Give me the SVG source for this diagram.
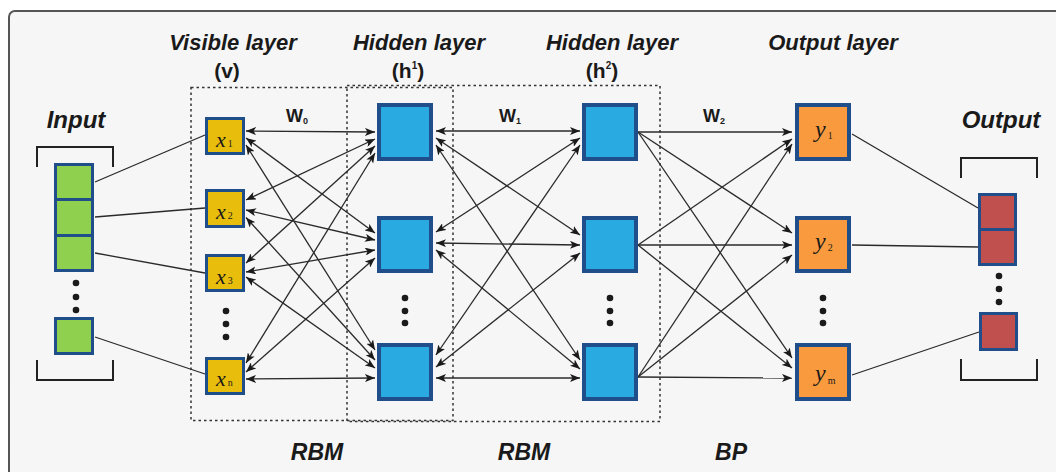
<svg xmlns="http://www.w3.org/2000/svg" width="1056" height="472" viewBox="0 0 1056 472">
<defs>
<style>
.lbl{font-family:"Liberation Sans",Arial,sans-serif;font-weight:bold;font-style:italic;fill:#1a1a1a;text-anchor:middle}
.par{font-family:"Liberation Sans",Arial,sans-serif;font-weight:bold;fill:#1a1a1a;text-anchor:middle}
.w{font-family:"Liberation Sans",Arial,sans-serif;font-weight:bold;fill:#1a1a1a}
.var{font-family:"Liberation Serif","Times New Roman",serif;font-style:italic;fill:#1a1a1a}
.sub{font-family:"Liberation Serif","Times New Roman",serif;font-style:normal}
.green{fill:#8fd14f;stroke:#1f4e8a;stroke-width:3}
.yellow{fill:#e9bd0c;stroke:#1f4e8a;stroke-width:3}
.blue{fill:#29abe2;stroke:#1f4e8a;stroke-width:4}
.orange{fill:#f99a3e;stroke:#1f4e8a;stroke-width:4}
.red{fill:#c0504d;stroke:#1f4e8a;stroke-width:3}
.dot{fill:#1a1a1a}
.box{fill:none;stroke:#333;stroke-width:1.5;stroke-dasharray:2.5 3}
.br{fill:none;stroke:#222;stroke-width:2}
.plain{stroke:#2a2a2a;stroke-width:1.3;fill:none}
.bi{stroke:#2a2a2a;stroke-width:1.3;fill:none;marker-start:url(#ah);marker-end:url(#ah)}
.uni{stroke:#2a2a2a;stroke-width:1.3;fill:none;marker-end:url(#ah)}
</style>
<marker id="ah" viewBox="0 0 10 8" refX="10" refY="4" markerWidth="10" markerHeight="8" markerUnits="userSpaceOnUse" orient="auto-start-reverse">
<path d="M0,0 L10,4 L0,8 L2.5,4 z" fill="#1a1a1a"/>
</marker>
</defs>
<rect x="0" y="0" width="1056" height="472" fill="#ffffff"/>
<rect x="9" y="11" width="1090" height="500" rx="6" fill="#f6f6f6" stroke="#555" stroke-width="2"/>

<g id="labels">
<text class="lbl" x="76" y="128" font-size="24">Input</text>
<text class="lbl" x="1001" y="128" font-size="24">Output</text>
<text class="lbl" x="233" y="50" font-size="22">Visible layer</text>
<text class="par" x="227" y="78" font-size="21">(v)</text>
<text class="lbl" x="419" y="50" font-size="22">Hidden layer</text>
<text class="par" x="408" y="78" font-size="21">(h<tspan font-size="10" dy="-9">1</tspan><tspan dy="9">)</tspan></text>
<text class="lbl" x="612" y="50" font-size="22">Hidden layer</text>
<text class="par" x="602" y="78" font-size="21">(h<tspan font-size="10" dy="-9">2</tspan><tspan dy="9">)</tspan></text>
<text class="lbl" x="833" y="50" font-size="22">Output layer</text>
<text class="w" x="286" y="122" font-size="18">W<tspan font-size="9" dy="2">0</tspan></text>
<text class="w" x="499" y="122" font-size="18">W<tspan font-size="9" dy="2">1</tspan></text>
<text class="w" x="703" y="122" font-size="18">W<tspan font-size="9" dy="2">2</tspan></text>
<text class="lbl" x="317" y="460" font-size="23">RBM</text>
<text class="lbl" x="524" y="460" font-size="23">RBM</text>
<text class="lbl" x="731" y="460" font-size="23">BP</text>
</g>

<g id="rbm-boxes">
<rect class="box" x="191" y="87.5" width="262" height="333"/>
<rect class="box" x="347" y="85.5" width="313" height="336"/>
</g>

<g id="connectors">
<!-- input to visible -->
<line class="plain" x1="95" y1="182" x2="205" y2="135"/>
<line class="plain" x1="95" y1="217" x2="205" y2="208"/>
<line class="plain" x1="95" y1="253" x2="205" y2="273"/>
<line class="plain" x1="95" y1="337" x2="205" y2="374"/>
<!-- visible <-> hidden1 -->
<line class="bi" x1="246" y1="131" x2="375" y2="132"/>
<line class="bi" x1="246" y1="138" x2="375" y2="233"/>
<line class="bi" x1="246" y1="145" x2="375" y2="350"/>
<line class="bi" x1="246" y1="200" x2="375" y2="139"/>
<line class="bi" x1="246" y1="210" x2="375" y2="240"/>
<line class="bi" x1="246" y1="217.5" x2="375" y2="360"/>
<line class="bi" x1="246" y1="263" x2="375" y2="146"/>
<line class="bi" x1="246" y1="272" x2="375" y2="250"/>
<line class="bi" x1="246" y1="277" x2="375" y2="368"/>
<line class="bi" x1="246" y1="363" x2="375" y2="153"/>
<line class="bi" x1="246" y1="372" x2="375" y2="258"/>
<line class="bi" x1="246" y1="379" x2="375" y2="378"/>
<!-- hidden1 <-> hidden2 -->
<line class="bi" x1="436" y1="131" x2="580" y2="131"/>
<line class="bi" x1="436" y1="138" x2="580" y2="235"/>
<line class="bi" x1="436" y1="145" x2="580" y2="360"/>
<line class="bi" x1="436" y1="232" x2="580" y2="138"/>
<line class="bi" x1="436" y1="243" x2="580" y2="245"/>
<line class="bi" x1="436" y1="250" x2="580" y2="369"/>
<line class="bi" x1="436" y1="355" x2="580" y2="145"/>
<line class="bi" x1="436" y1="367" x2="580" y2="253"/>
<line class="bi" x1="436" y1="378" x2="580" y2="378"/>
<!-- hidden2 -> output -->
<line class="uni" x1="638" y1="132" x2="792" y2="132"/>
<line class="uni" x1="638" y1="132" x2="792" y2="233"/>
<line class="uni" x1="638" y1="132" x2="792" y2="358"/>
<line class="uni" x1="638" y1="245" x2="792" y2="139"/>
<line class="uni" x1="638" y1="245" x2="792" y2="245"/>
<line class="uni" x1="638" y1="245" x2="792" y2="368"/>
<line class="uni" x1="638" y1="377" x2="792" y2="144"/>
<line class="uni" x1="638" y1="377" x2="792" y2="255"/>
<line class="uni" x1="638" y1="377" x2="792" y2="378"/>
<!-- output layer to output -->
<line class="plain" x1="852" y1="134" x2="978" y2="208"/>
<line class="plain" x1="852" y1="245" x2="978" y2="247"/>
<line class="plain" x1="852" y1="375" x2="979" y2="332"/>
</g>

<g id="input">
<path class="br" d="M37,167 V147 H113 V167"/>
<rect class="green" x="55.5" y="164.5" width="37" height="35"/>
<rect class="green" x="55.5" y="199.5" width="37" height="36"/>
<rect class="green" x="55.5" y="235.5" width="37" height="35"/>
<circle class="dot" cx="76" cy="283" r="3.3"/>
<circle class="dot" cx="76" cy="297" r="3.3"/>
<circle class="dot" cx="76" cy="310" r="3.3"/>
<rect class="green" x="55.5" y="318.5" width="37" height="35"/>
<path class="br" d="M37,360 V380 H113 V360"/>
</g>

<g id="visible-layer">
<g id="x1"><rect class="yellow" x="206.5" y="118.5" width="37" height="35"/><text class="var" x="216" y="147" font-size="22">x<tspan class="sub" font-size="10" dx="2">1</tspan></text></g>
<g id="x2"><rect class="yellow" x="206.5" y="190.5" width="37" height="36"/><text class="var" x="216" y="219" font-size="22">x<tspan class="sub" font-size="10" dx="2">2</tspan></text></g>
<g id="x3"><rect class="yellow" x="206.5" y="255.5" width="37" height="35"/><text class="var" x="216" y="284" font-size="22">x<tspan class="sub" font-size="10" dx="2">3</tspan></text></g>
<circle class="dot" cx="226" cy="311" r="3.3"/>
<circle class="dot" cx="226" cy="324" r="3.3"/>
<circle class="dot" cx="226" cy="337" r="3.3"/>
<g id="xn"><rect class="yellow" x="206.5" y="358.5" width="37" height="35"/><text class="var" x="216" y="386" font-size="22">x<tspan class="sub" font-size="10" dx="2">n</tspan></text></g>
</g>

<g id="hidden-layer-1">
<rect id="h1a" class="blue" x="379" y="105" width="52" height="54"/>
<rect id="h1b" class="blue" x="379" y="218" width="52" height="53"/>
<circle class="dot" cx="405" cy="298" r="3.3"/>
<circle class="dot" cx="405" cy="311" r="3.3"/>
<circle class="dot" cx="405" cy="323" r="3.3"/>
<rect id="h1c" class="blue" x="379" y="345" width="52" height="54"/>
</g>

<g id="hidden-layer-2">
<rect id="h2a" class="blue" x="584" y="105" width="52" height="54"/>
<rect id="h2b" class="blue" x="584" y="218" width="52" height="53"/>
<circle class="dot" cx="610" cy="298" r="3.3"/>
<circle class="dot" cx="610" cy="311" r="3.3"/>
<circle class="dot" cx="610" cy="323" r="3.3"/>
<rect id="h2c" class="blue" x="584" y="345" width="52" height="54"/>
</g>

<g id="output-layer">
<g id="y1"><rect class="orange" x="797" y="105" width="52" height="54"/><text class="var" x="815" y="137" font-size="24">y<tspan class="sub" font-size="10" dx="2" dy="2">1</tspan></text></g>
<g id="y2"><rect class="orange" x="797" y="218" width="52" height="53"/><text class="var" x="815" y="249" font-size="24">y<tspan class="sub" font-size="10" dx="2" dy="2">2</tspan></text></g>
<circle class="dot" cx="823" cy="298" r="3.3"/>
<circle class="dot" cx="823" cy="311" r="3.3"/>
<circle class="dot" cx="823" cy="323" r="3.3"/>
<g id="ym"><rect class="orange" x="797" y="345" width="52" height="54"/><text class="var" x="815" y="381" font-size="24">y<tspan class="sub" font-size="10" dx="2" dy="3">m</tspan></text></g>
</g>

<g id="output">
<path class="br" d="M961,178 V158 H1037 V178"/>
<rect class="red" x="979.5" y="194.5" width="36" height="35"/>
<rect class="red" x="979.5" y="229.5" width="36" height="35"/>
<circle class="dot" cx="999" cy="276" r="3.3"/>
<circle class="dot" cx="999" cy="289" r="3.3"/>
<circle class="dot" cx="999" cy="302" r="3.3"/>
<rect class="red" x="980.5" y="313.5" width="36" height="36"/>
<path class="br" d="M961,359 V380 H1037 V359"/>
</g>
</svg>
